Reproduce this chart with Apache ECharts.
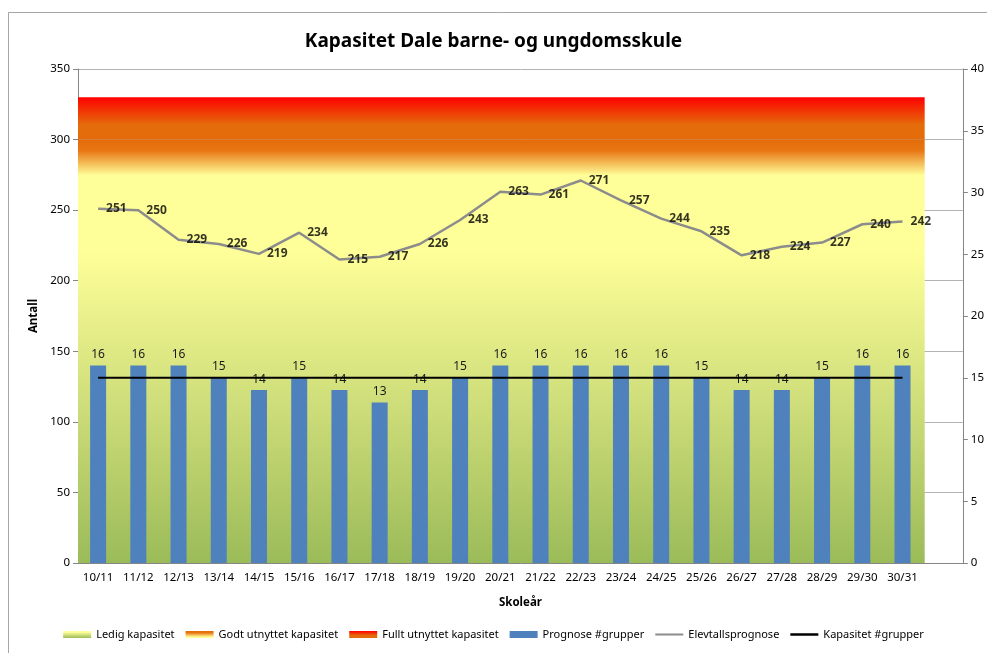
<!DOCTYPE html>
<html>
<head>
<meta charset="utf-8">
<script src="https://cdn.jsdelivr.net/npm/echarts@6/dist/echarts.min.js"></script>
<style>
  html, body { margin: 0; padding: 0; background: #fff; }
  #chart { width: 987px; height: 653px; }
</style>
</head>
<body>
<div id="chart"></div>
<script>
// skoleår og prognosar
var skolear = ['10/11','11/12','12/13','13/14','14/15','15/16','16/17','17/18','18/19','19/20','20/21',
               '21/22','22/23','23/24','24/25','25/26','26/27','27/28','28/29','29/30','30/31'];
var elevtal = [251,250,229,226,219,234,215,217,226,243,263,261,271,257,244,235,218,224,227,240,242];
var grupper = [16,16,16,15,14,15,14,13,14,15,16,16,16,16,16,15,14,14,15,16,16];
var kapasitetGrupper = [15,15,15,15,15,15,15,15,15,15,15,15,15,15,15,15,15,15,15,15,15];
// kapasitetssoner (lagvis, stabla)
var ledig = 270;
var godt = 30;
var fullt = 30;

var fontFam = '"Noto Sans", "Liberation Sans", sans-serif';
var chart = echarts.init(document.getElementById('chart'));

var gridLeft = 78, gridRight = 22;
var plotW = 987 - gridLeft - gridRight;
var nCat = skolear.length + 1; // ein tom kategori til slutt
// bakgrunnen dekkjer berre dei 21 skoleåra
var bgRight = gridRight + plotW / nCat;

var gradLedig = new echarts.graphic.LinearGradient(0, 0, 0, 1, [
  { offset: 0, color: '#FFFF99' }, { offset: 0.18, color: '#FFFF99' }, { offset: 1, color: '#9BBB59' }
]);
var gradGodt = new echarts.graphic.LinearGradient(0, 0, 0, 1, [
  { offset: 0, color: '#E46C0A' }, { offset: 0.25, color: '#E87512' }, { offset: 0.85, color: '#FFFF99' }, { offset: 1, color: '#FFFF99' }
]);
var gradFullt = new echarts.graphic.LinearGradient(0, 0, 0, 1, [
  { offset: 0, color: '#FF0000' }, { offset: 0.65, color: '#E46C0A' }, { offset: 1, color: '#E46C0A' }
]);

function sone(name, verdi, grad) {
  return {
    name: name,
    type: 'line',
    xAxisIndex: 1,
    yAxisIndex: 2,
    stack: 'kapasitet',
    symbol: 'none',
    silent: true,
    z: 1,
    lineStyle: { width: 0 },
    itemStyle: { color: grad },
    areaStyle: { color: grad, opacity: 1 },
    data: [verdi, verdi]
  };
}

var option = {
  title: {
    text: 'Kapasitet Dale barne- og ungdomsskule',
    left: 'center',
    top: 27,
    textStyle: { fontFamily: fontFam, fontSize: 19, fontWeight: 'bold', color: '#000' }
  },
  graphic: [{
    type: 'rect',
    shape: { x: 8.5, y: 12.5, width: 1200, height: 800 },
    style: { fill: 'none', stroke: '#A6A6A6', lineWidth: 1 },
    silent: true, z: -10
  }],
  legend: {
    bottom: 8,
    left: 'center',
    itemWidth: 28,
    itemHeight: 7,
    itemGap: 11,
    textStyle: { fontFamily: fontFam, fontSize: 11, color: '#000' },
    data: [
      { name: 'Ledig kapasitet', icon: 'rect', itemStyle: { color: gradLedig } },
      { name: 'Godt utnyttet kapasitet', icon: 'rect', itemStyle: { color: gradGodt } },
      { name: 'Fullt utnyttet kapasitet', icon: 'rect', itemStyle: { color: gradFullt } },
      { name: 'Prognose #grupper', icon: 'rect' },
      { name: 'Elevtallsprognose', icon: 'path://M0,0H28V2H0Z' },
      { name: 'Kapasitet #grupper', icon: 'path://M0,0H28V2.5H0Z' }
    ]
  },
  grid: [
    { left: gridLeft, right: gridRight, top: 69, bottom: 90 },
    { left: gridLeft, right: bgRight, top: 69, bottom: 90 }
  ],
  xAxis: [{
    type: 'category',
    gridIndex: 0,
    data: skolear.concat(['']),
    boundaryGap: true,
    name: 'Skoleår',
    nameLocation: 'middle',
    nameGap: 34,
    nameTextStyle: { fontFamily: fontFam, fontSize: 11.5, fontWeight: 'bold', color: '#000' },
    axisLine: { lineStyle: { color: '#868686' } },
    axisTick: { length: 5, lineStyle: { color: '#868686' }, interval: 0 },
    axisLabel: { interval: 0, margin: 9, fontFamily: fontFam, fontSize: 11.5, color: '#000' }
  }, {
    type: 'category',
    gridIndex: 1,
    data: ['start', 'slutt'],
    boundaryGap: false,
    show: false
  }],
  yAxis: [{
    type: 'value',
    gridIndex: 0,
    min: 0, max: 350, interval: 50,
    name: 'Antall',
    nameLocation: 'middle',
    nameGap: 38,
    nameRotate: 90,
    nameTextStyle: { fontFamily: fontFam, fontSize: 11.5, fontWeight: 'bold', color: '#000' },
    axisLine: { show: true, lineStyle: { color: '#868686' } },
    axisTick: { show: true, length: 5, lineStyle: { color: '#868686' } },
    axisLabel: { margin: 8, fontFamily: fontFam, fontSize: 11.5, color: '#000' },
    splitLine: { show: true, lineStyle: { color: '#B3B3B3', width: 1 } }
  }, {
    type: 'value',
    gridIndex: 0,
    min: 0, max: 40, interval: 5,
    position: 'right',
    axisLine: { show: true, lineStyle: { color: '#868686' } },
    axisTick: { show: true, length: 5, lineStyle: { color: '#868686' } },
    axisLabel: { margin: 8, fontFamily: fontFam, fontSize: 11.5, color: '#000' },
    splitLine: { show: false }
  }, {
    type: 'value',
    gridIndex: 1,
    min: 0, max: 350,
    show: false
  }],
  series: [
    sone('Ledig kapasitet', ledig, gradLedig),
    sone('Godt utnyttet kapasitet', godt, gradGodt),
    sone('Fullt utnyttet kapasitet', fullt, gradFullt),
    {
      name: 'Prognose #grupper',
      type: 'bar',
      xAxisIndex: 0,
      yAxisIndex: 1,
      barWidth: 16,
      z: 3,
      itemStyle: { color: '#4F81BD' },
      label: {
        show: true, position: 'top', distance: 5,
        fontFamily: fontFam, fontSize: 12, color: '#1a1a1a'
      },
      data: grupper
    },
    {
      name: 'Elevtallsprognose',
      type: 'line',
      xAxisIndex: 0,
      yAxisIndex: 0,
      symbol: 'none',
      z: 4,
      itemStyle: { color: '#8C8C8C' },
      lineStyle: { color: '#8C8C8C', width: 2.5 },
      data: elevtal
    },
    {
      // berre etikettar for elevtalet
      name: 'elevtal-etikett',
      type: 'scatter',
      xAxisIndex: 0,
      yAxisIndex: 0,
      symbolSize: 0,
      z: 5,
      silent: true,
      label: {
        show: true, position: 'right', distance: 8,
        fontFamily: fontFam, fontSize: 12, fontWeight: 'bold', color: '#000'
      },
      data: elevtal
    },
    {
      name: 'Kapasitet #grupper',
      type: 'line',
      xAxisIndex: 0,
      yAxisIndex: 1,
      symbol: 'none',
      z: 5,
      itemStyle: { color: '#000' },
      lineStyle: { color: '#000', width: 2 },
      data: kapasitetGrupper
    }
  ]
};

chart.setOption(option);
</script>
</body>
</html>
